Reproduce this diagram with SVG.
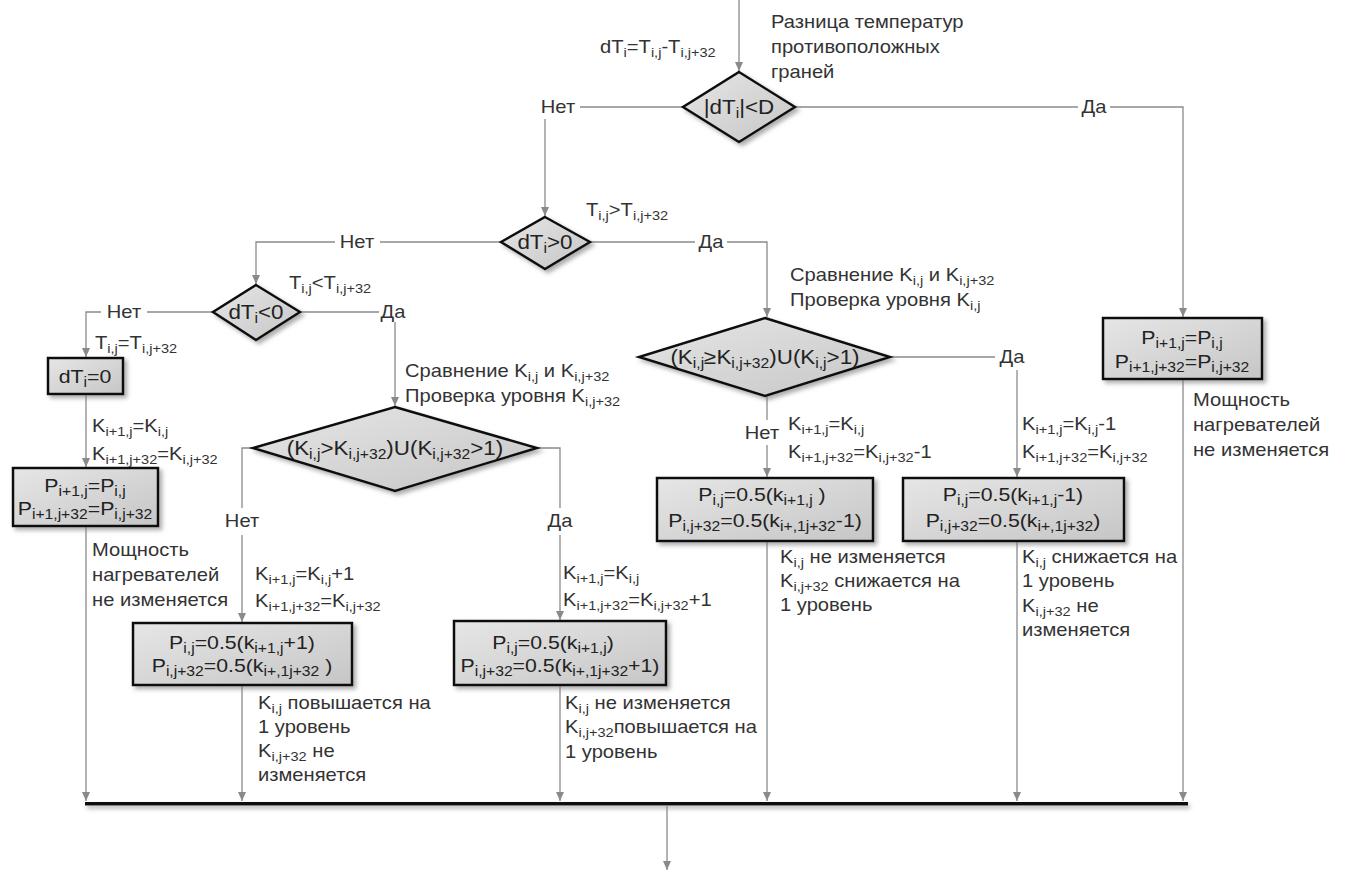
<svg xmlns="http://www.w3.org/2000/svg" width="1346" height="873" viewBox="0 0 1346 873">
<style>
.t{font-family:"Liberation Sans",Arial,sans-serif;font-size:18px;fill:#333;transform-box:fill-box;transform-origin:0 50%;transform:scaleX(1.12)}
.m{text-anchor:middle;transform-origin:50% 50%}
.b{font-size:19px;fill:#222}
.d{font-size:20px;fill:#222}
.s{font-size:13px;baseline-shift:-4px}
.b .s{font-size:14px}
.d .s{font-size:14px}
.ln{fill:none;stroke:#8a8a8a;stroke-width:1.3}
.sh{fill:url(#g);stroke:#111;stroke-width:2.5;filter:url(#ds)}
</style>
<defs>
<linearGradient id="g" x1="0" y1="0" x2="1" y2="1">
<stop offset="0" stop-color="#e6e6e6"/>
<stop offset="1" stop-color="#c6c6c6"/>
</linearGradient>
<filter id="ds" x="-10%" y="-10%" width="130%" height="140%">
<feDropShadow dx="3" dy="3" stdDeviation="2" flood-color="#777" flood-opacity="0.6"/>
</filter>
<filter id="bs" filterUnits="userSpaceOnUse" x="70" y="790" width="1140" height="30">
<feDropShadow dx="2" dy="3" stdDeviation="2" flood-color="#777" flood-opacity="0.6"/>
</filter>
<marker id="a" markerUnits="userSpaceOnUse" markerWidth="10" markerHeight="10" refX="9" refY="4" orient="auto">
<path d="M0,0 L9,4 L0,8 Z" fill="#8a8a8a"/>
</marker>
</defs>

<g id="connectors">
<path class="ln" d="M739,0 V71" marker-end="url(#a)"/>
<path class="ln" d="M683,107 H580"/>
<path class="ln" d="M545,119 V216" marker-end="url(#a)"/>
<path class="ln" d="M795,107 H1078"/>
<path class="ln" d="M1110,107 H1183 V317" marker-end="url(#a)"/>
<path class="ln" d="M1183,379 V801" marker-end="url(#a)"/>
<path class="ln" d="M501,242 H380"/>
<path class="ln" d="M335,242 H256 V284" marker-end="url(#a)"/>
<path class="ln" d="M590,242 H695"/>
<path class="ln" d="M727,242 H767 V317" marker-end="url(#a)"/>
<path class="ln" d="M213,312 H147"/>
<path class="ln" d="M101,312 H86 V357" marker-end="url(#a)"/>
<path class="ln" d="M300,312 H379"/>
<path class="ln" d="M395,322 V406" marker-end="url(#a)"/>
<path class="ln" d="M86,394 V467" marker-end="url(#a)"/>
<path class="ln" d="M86,526 V801" marker-end="url(#a)"/>
<path class="ln" d="M253,448 H242 V508"/>
<path class="ln" d="M242,535 V622" marker-end="url(#a)"/>
<path class="ln" d="M537,448 H560 V508"/>
<path class="ln" d="M560,535 V620" marker-end="url(#a)"/>
<path class="ln" d="M242,685 V801" marker-end="url(#a)"/>
<path class="ln" d="M560,685 V801" marker-end="url(#a)"/>
<path class="ln" d="M767,396 V420"/>
<path class="ln" d="M767,445 V477" marker-end="url(#a)"/>
<path class="ln" d="M890,357 H995"/>
<path class="ln" d="M1017,370 V477" marker-end="url(#a)"/>
<path class="ln" d="M767,541 V801" marker-end="url(#a)"/>
<path class="ln" d="M1017,541 V801" marker-end="url(#a)"/>
<rect x="85" y="802" width="1103" height="3.5" fill="#111" filter="url(#bs)"/>
<path class="ln" d="M667,806 V870" marker-end="url(#a)"/>
</g>

<g id="edge-labels">
<text class="t m" x="558" y="113">Нет</text>
<text class="t m" x="1094" y="113">Да</text>
<text class="t m" x="357" y="248">Нет</text>
<text class="t m" x="711" y="248">Да</text>
<text class="t m" x="124" y="318">Нет</text>
<text class="t m" x="393" y="318">Да</text>
<text class="t m" x="242" y="527">Нет</text>
<text class="t m" x="560" y="527">Да</text>
<text class="t m" x="762" y="439">Нет</text>
<text class="t m" x="1012" y="363">Да</text>
</g>

<g id="start-labels">
<text class="t" x="600" y="53">dT<tspan class="s">i</tspan>=T<tspan class="s">i,j</tspan>-T<tspan class="s">i,j+32</tspan></text>
<text class="t" x="771" y="28">Разница температур</text>
<text class="t" x="771" y="53">противоположных</text>
<text class="t" x="771" y="78">граней</text>
</g>

<g id="d1">
<polygon class="sh" points="739,72 795,107 739,142 683,107"/>
<text class="t m d" x="739" y="114">|dT<tspan class="s">i</tspan>|&lt;D</text>
</g>

<g id="d2">
<polygon class="sh" points="545,217 590,242 545,269 501,242"/>
<text class="t m d" x="545" y="249">dT<tspan class="s">i</tspan>&gt;0</text>
<text class="t" x="586" y="216">T<tspan class="s">i,j</tspan>&gt;T<tspan class="s">i,j+32</tspan></text>
</g>

<g id="d3">
<polygon class="sh" points="256,285 300,312 256,340 213,312"/>
<text class="t m d" x="256" y="319">dT<tspan class="s">i</tspan>&lt;0</text>
<text class="t" x="289" y="289">T<tspan class="s">i,j</tspan>&lt;T<tspan class="s">i,j+32</tspan></text>
</g>

<g id="box-dt0">
<rect class="sh" x="48" y="358" width="75" height="36"/>
<text class="t m b" x="85" y="383">dT<tspan class="s">i</tspan>=0</text>
<text class="t" x="95" y="349">T<tspan class="s">i,j</tspan>=T<tspan class="s">i,j+32</tspan></text>
</g>

<g id="box-left">
<text class="t" x="92" y="432">K<tspan class="s">i+1,j</tspan>=K<tspan class="s">i,j</tspan></text>
<text class="t" x="92" y="460">K<tspan class="s">i+1,j+32</tspan>=K<tspan class="s">i,j+32</tspan></text>
<rect class="sh" x="13" y="468" width="145" height="58"/>
<text class="t m b" x="85" y="492">P<tspan class="s">i+1,j</tspan>=P<tspan class="s">i,j</tspan></text>
<text class="t m b" x="85" y="515">P<tspan class="s">i+1,j+32</tspan>=P<tspan class="s">i,j+32</tspan></text>
<text class="t" x="92" y="556">Мощность</text>
<text class="t" x="92" y="581">нагревателей</text>
<text class="t" x="92" y="606">не изменяется</text>
</g>

<g id="d5">
<text class="t" x="405" y="377">Сравнение K<tspan class="s">i,j</tspan> и K<tspan class="s">i,j+32</tspan></text>
<text class="t" x="405" y="402">Проверка уровня K<tspan class="s">i,j+32</tspan></text>
<polygon class="sh" points="395,407 537,448 395,491 253,448"/>
<text class="t m d" x="395" y="455">(K<tspan class="s">i,j</tspan>&gt;K<tspan class="s">i,j+32</tspan>)U(K<tspan class="s">i,j+32</tspan>&gt;1)</text>
</g>

<g id="box-d5-no">
<text class="t" x="255" y="580">K<tspan class="s">i+1,j</tspan>=K<tspan class="s">i,j</tspan>+1</text>
<text class="t" x="255" y="607">K<tspan class="s">i+1,j+32</tspan>=K<tspan class="s">i,j+32</tspan></text>
<rect class="sh" x="133" y="623" width="219" height="62"/>
<text class="t m b" x="242" y="649">P<tspan class="s">i,j</tspan>=0.5(k<tspan class="s">i+1,j</tspan>+1)</text>
<text class="t m b" x="242" y="672">P<tspan class="s">i,j+32</tspan>=0.5(k<tspan class="s">i+,1j+32</tspan> )</text>
<text class="t" x="258" y="709">K<tspan class="s">i,j</tspan> повышается на</text>
<text class="t" x="258" y="733">1 уровень</text>
<text class="t" x="258" y="757">K<tspan class="s">i,j+32</tspan> не</text>
<text class="t" x="258" y="781">изменяется</text>
</g>

<g id="box-d5-yes">
<text class="t" x="563" y="579">K<tspan class="s">i+1,j</tspan>=K<tspan class="s">i,j</tspan></text>
<text class="t" x="563" y="606">K<tspan class="s">i+1,j+32</tspan>=K<tspan class="s">i,j+32</tspan>+1</text>
<rect class="sh" x="454" y="621" width="212" height="64"/>
<text class="t m b" x="553" y="649">P<tspan class="s">i,j</tspan>=0.5(k<tspan class="s">i+1,j</tspan>)</text>
<text class="t m b" x="560" y="672">P<tspan class="s">i,j+32</tspan>=0.5(k<tspan class="s">i+,1j+32</tspan>+1)</text>
<text class="t" x="565" y="709">K<tspan class="s">i,j</tspan> не изменяется</text>
<text class="t" x="565" y="733">K<tspan class="s">i,j+32</tspan>повышается на</text>
<text class="t" x="565" y="758">1 уровень</text>
</g>

<g id="d4">
<text class="t" x="790" y="281">Сравнение K<tspan class="s">i,j</tspan> и K<tspan class="s">i,j+32</tspan></text>
<text class="t" x="790" y="306">Проверка уровня K<tspan class="s">i,j</tspan></text>
<polygon class="sh" points="765,318 890,357 765,396 639,357"/>
<text class="t m d" x="765" y="364">(K<tspan class="s">i,j</tspan>≥K<tspan class="s">i,j+32</tspan>)U(K<tspan class="s">i,j</tspan>&gt;1)</text>
</g>

<g id="box-d4-no">
<text class="t" x="788" y="430">K<tspan class="s">i+1,j</tspan>=K<tspan class="s">i,j</tspan></text>
<text class="t" x="788" y="458">K<tspan class="s">i+1,j+32</tspan>=K<tspan class="s">i,j+32</tspan>-1</text>
<rect class="sh" x="657" y="478" width="216" height="63"/>
<text class="t m b" x="762" y="501">P<tspan class="s">i,j</tspan>=0.5(k<tspan class="s">i+1,j</tspan> )</text>
<text class="t m b" x="765" y="527">P<tspan class="s">i,j+32</tspan>=0.5(k<tspan class="s">i+,1j+32</tspan>-1)</text>
<text class="t" x="780" y="563">K<tspan class="s">i,j</tspan> не изменяется</text>
<text class="t" x="780" y="587">K<tspan class="s">i,j+32</tspan> снижается на</text>
<text class="t" x="780" y="611">1 уровень</text>
</g>

<g id="box-d4-yes">
<text class="t" x="1022" y="430">K<tspan class="s">i+1,j</tspan>=K<tspan class="s">i,j</tspan>-1</text>
<text class="t" x="1022" y="458">K<tspan class="s">i+1,j+32</tspan>=K<tspan class="s">i,j+32</tspan></text>
<rect class="sh" x="903" y="478" width="221" height="63"/>
<text class="t m b" x="1013" y="501">P<tspan class="s">i,j</tspan>=0.5(k<tspan class="s">i+1,j</tspan>-1)</text>
<text class="t m b" x="1013" y="527">P<tspan class="s">i,j+32</tspan>=0.5(k<tspan class="s">i+,1j+32</tspan>)</text>
<text class="t" x="1022" y="563">K<tspan class="s">i,j</tspan> снижается на</text>
<text class="t" x="1022" y="587">1 уровень</text>
<text class="t" x="1022" y="612">K<tspan class="s">i,j+32</tspan> не</text>
<text class="t" x="1022" y="636">изменяется</text>
</g>

<g id="box-right">
<rect class="sh" x="1103" y="318" width="159" height="61"/>
<text class="t m b" x="1182" y="344">P<tspan class="s">i+1,j</tspan>=P<tspan class="s">i,j</tspan></text>
<text class="t m b" x="1182" y="368">P<tspan class="s">i+1,j+32</tspan>=P<tspan class="s">i,j+32</tspan></text>
<text class="t" x="1193" y="406">Мощность</text>
<text class="t" x="1193" y="431">нагревателей</text>
<text class="t" x="1193" y="456">не изменяется</text>
</g>
</svg>
